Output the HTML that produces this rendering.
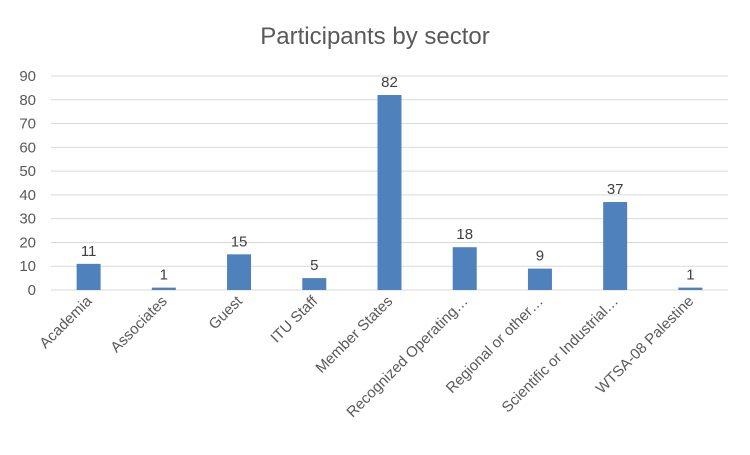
<!DOCTYPE html>
<html><head><meta charset="utf-8"><style>
body{margin:0;background:#fff;font-family:"Liberation Sans",Arial,sans-serif;}
svg text{font-family:"Liberation Sans",Arial,sans-serif;}
</style></head><body>
<svg id="chart" width="750" height="450" xmlns="http://www.w3.org/2000/svg">
<rect width="750" height="450" fill="#fff"/>
<text x="375" y="44" text-anchor="middle" font-size="24" fill="#595959">Participants by sector</text>
<g id="grid"></g><g id="bars"></g><g id="labels"></g>
</svg>
<script>
const categories=["Academia","Associates","Guest","ITU Staff","Member States","Recognized Operating…","Regional or other…","Scientific or Industrial…","WTSA-08 Palestine"];
const values=[11,1,15,5,82,18,9,37,1];
const ticks=[0,10,20,30,40,50,60,70,80,90];
const NS="http://www.w3.org/2000/svg";
const x0=51,x1=728,y0=290,yTop=76,yMax=90;
const step=(x1-x0)/categories.length;
const y=v=>y0-(v/yMax)*(y0-yTop);
const xc=i=>x0+step*(i+0.5);
function mk(t,a,p){const e=document.createElementNS(NS,t);for(const k in a)e.setAttribute(k,a[k]);p.appendChild(e);return e;}
const grid=document.getElementById('grid'),bars=document.getElementById('bars'),labels=document.getElementById('labels');
ticks.forEach(t=>{
  const l=mk('line',{x1:x0,x2:x1,y1:y(t),y2:y(t),stroke:t===0?'#d9d9d9':'#d9d9d9','stroke-width':1},grid);
  
  
  const tx=mk('text',{x:36,y:y(t)+5,'text-anchor':'end','font-size':15,fill:'#595959'},grid);
  tx.textContent=t;
  
  
});
values.forEach((v,i)=>{
  const r=mk('rect',{x:xc(i)-12,y:y(v),width:24,height:y0-y(v),fill:'#4f81bd'},bars);
  
  
  const t=mk('text',{x:xc(i),y:y(v)-8,'text-anchor':'middle','font-size':15,fill:'#404040'},labels);
  t.textContent=v;
  
  
  const c=mk('text',{x:0,y:0,'text-anchor':'end','font-size':15,fill:'#595959',transform:`translate(${xc(i)+4},${y0+12}) rotate(-45)`},labels);
  c.textContent=categories[i];
  
  
});
</script>
</body></html>
